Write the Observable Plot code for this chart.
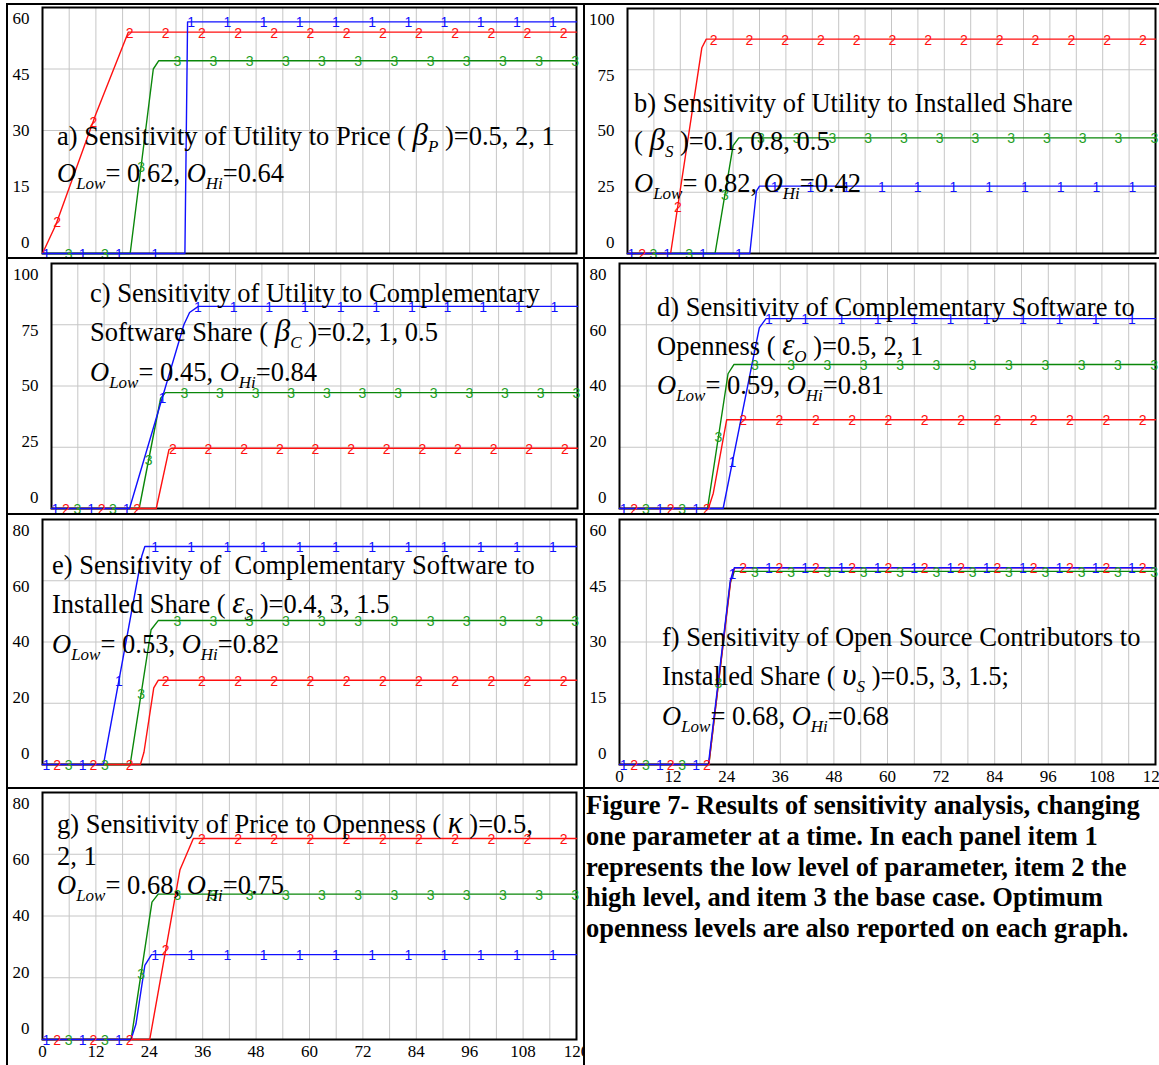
<!DOCTYPE html>
<html><head><meta charset="utf-8">
<script src="https://cdn.jsdelivr.net/npm/d3@7"></script>
<script src="https://cdn.jsdelivr.net/npm/@observablehq/plot@0.6"></script>
<style>
html,body{margin:0;padding:0;background:#fff;}
#fig{position:relative;width:1159px;height:1065px;overflow:hidden;background:#fff;font-family:"Liberation Serif","Times New Roman",serif;}
.box{position:absolute;overflow:hidden;}
.rule{position:absolute;background:#000;}
.ann{position:absolute;font-size:26.5px;line-height:26px;white-space:pre;color:#000;}
.sub{font-size:17px;position:relative;top:7px;font-style:italic;}
.gr{font-style:italic;font-size:31px;}
.it{font-style:italic;}
#cap{position:absolute;left:586px;top:790px;font-weight:bold;font-size:26.5px;line-height:30.8px;white-space:nowrap;}
</style></head><body><div id="fig"></div>
<script>
// ---------- data ----------
const xGrid = [0,6,12,18,24,30,36,42,48,54,60,66,72,78,84,90,96,102,108,114,120];
const xLabels = [0,12,24,36,48,60,72,84,96,108,120];
const yTicksA = [0,15,30,45,60];
const yTicksB = [0,25,50,75,100];
const yTicksC = [0,25,50,75,100];
const yTicksD = [0,20,40,60,80];
const yTicksE = [0,20,40,60,80];
const yTicksF = [0,15,30,45,60];
const yTicksG = [0,20,40,60,80];

// series as [time, value] breakpoints: 1 = low, 2 = high, 3 = base case
const aLow  = [[0,0],[32,0],[32.6,56.5],[120,56.5]];
const aHigh = [[0,0],[3,7],[12,34],[19.3,54],[120,54]];
const aBase = [[0,0],[19.7,0],[24.9,45],[26.1,47],[120,47]];

const bLow  = [[0,0],[27.8,0],[29.3,25.5],[30,27.5],[120,27.5]];
const bHigh = [[0,0],[9.8,0],[16.9,84],[17.9,87.5],[120,87.5]];
const bBase = [[0,0],[19.9,0],[24,44],[25.3,47.2],[120,47.2]];

const cLow  = [[0,0],[17.8,0],[30.2,75],[31.5,80],[33.5,82.5],[120,82.5]];
const cHigh = [[0,0],[23.9,0],[26.8,24],[27.5,24.6],[120,24.6]];
const cBase = [[0,0],[20,0],[24.9,45],[26,47.3],[120,47.3]];

const dLow  = [[0,0],[23.2,0],[31.3,59],[32.8,62],[120,62]];
const dHigh = [[0,0],[19.9,0],[21,5],[24,29],[120,29]];
const dBase = [[0,0],[19.7,0],[24.3,44],[25.6,47],[120,47]];

const eLow  = [[0,0],[13.7,0],[22.3,68],[23,71.2],[120,71.2]];
const eHigh = [[0,0],[22,0],[22.8,4],[25,25],[26,27.5],[120,27.5]];
const eBase = [[0,0],[19.7,0],[24.4,44],[26,47],[120,47]];

const fLow  = [[0,0],[19.9,0],[24.8,45],[25.7,48.2],[120,48.2]];
const fHigh = [[0,0],[20,0],[24.9,45],[25.8,48.2],[120,48.2]];
const fBase = [[0,0],[20,0],[24.8,44.5],[25.7,47.3],[120,47.3]];

const gLow  = [[0,0],[19.9,0],[21,5],[23,24],[24.5,27.5],[120,27.5]];
const gHigh = [[0,0],[24.1,0],[30.9,55],[33.9,65.1],[120,65.1]];
const gBase = [[0,0],[19.9,0],[24.6,44.5],[26,47.1],[120,47.1]];

// marker numbers placed along each run (Vensim style)
const markerOffsets = [0.9, 3.3, 5.9];
const markerStep = 8.13;

// ---------- style ----------
const SERIF = "Liberation Serif, Times New Roman, serif";
const SANS = "Liberation Sans, Arial, sans-serif";
const lineColors = ["#1010ff", "#ff1010", "#0a870a"];
const textColors = ["#1010ff", "#ff1010", "#1e9e1e"];
const gridColor = "#c6c6c6";

const panels = [
  {series:[aLow,aHigh,aBase], yTicks:yTicksA, box:[9,5,574,252],   frame:[42,7,576,253],    xAxis:false},
  {series:[bLow,bHigh,bBase], yTicks:yTicksB, box:[585,5,574,252], frame:[627,8,1155,253],  xAxis:false},
  {series:[cLow,cHigh,cBase], yTicks:yTicksC, box:[9,259,574,254], frame:[51,263,577,508],  xAxis:false},
  {series:[dLow,dHigh,dBase], yTicks:yTicksD, box:[585,259,574,254], frame:[619,263,1155,508], xAxis:false},
  {series:[eLow,eHigh,eBase], yTicks:yTicksE, box:[9,515,574,272], frame:[42,519,576,764],  xAxis:false},
  {series:[fLow,fHigh,fBase], yTicks:yTicksF, box:[585,515,574,272], frame:[619,519,1155,764], xAxis:true},
  {series:[gLow,gHigh,gBase], yTicks:yTicksG, box:[9,789,574,276], frame:[42,792,576,1039], xAxis:true}
];

function interp(pts, t) {
  for (let i = 0; i < pts.length - 1; i++) {
    const [t0, v0] = pts[i], [t1, v1] = pts[i + 1];
    if (t >= t0 && t <= t1) return t1 === t0 ? v1 : v0 + (v1 - v0) * (t - t0) / (t1 - t0);
  }
  return pts[pts.length - 1][1];
}

const fig = document.getElementById("fig");

function rule(l, t, w, h) {
  const d = document.createElement("div");
  d.className = "rule";
  Object.assign(d.style, {left: l + "px", top: t + "px", width: w + "px", height: h + "px"});
  fig.appendChild(d);
}

panels.forEach(p => {
  const [sx, sy, W, H] = p.box;
  const [fx0, fy0, fx1, fy1] = p.frame;
  const ymax = d3.max(p.yTicks);
  const order = [2, 1, 0];
  const marks = [
    Plot.gridX(xGrid, {stroke: gridColor, strokeOpacity: 1, strokeWidth: 1}),
    Plot.gridY(p.yTicks, {stroke: gridColor, strokeOpacity: 1, strokeWidth: 1}),
    Plot.frame({stroke: "#000", strokeWidth: 2})
  ];
  order.forEach(k => {
    marks.push(Plot.line(p.series[k], {x: d => d[0], y: d => d[1], stroke: lineColors[k], strokeWidth: 1.4}));
  });
  order.forEach(k => {
    const md = d3.range(markerOffsets[k], 120.4, markerStep).map(t => ({t, v: interp(p.series[k], t), label: String(k + 1)}));
    marks.push(Plot.text(md, {x: "t", y: "v", text: "label", fill: textColors[k], fontSize: 14, fontFamily: SANS, dy: 1}));
  });
  const sorted = p.yTicks.slice().sort((a, b) => b - a);
  sorted.forEach((t, i) => {
    marks.push(Plot.axisY([t], {tickSize: 0, tickPadding: 13, dy: 11 - 5.5 * i, fontSize: 17, fontFamily: SERIF, fill: "#000", label: null, tickFormat: d => String(d)}));
  });
  if (p.xAxis) {
    marks.push(Plot.axisX(xLabels, {tickSize: 0, tickPadding: 5, fontSize: 17, fontFamily: SERIF, fill: "#000", label: null, tickFormat: d => String(d)}));
  }
  const svg = Plot.plot({
    width: W, height: H,
    marginLeft: fx0 - sx, marginTop: fy0 - sy, marginRight: sx + W - fx1, marginBottom: sy + H - fy1,
    x: {domain: [0, 120], axis: null},
    y: {domain: [0, ymax], axis: null},
    style: {background: "white", fontFamily: SERIF, color: "#000"},
    marks
  });
  const box = document.createElement("div");
  box.className = "box";
  Object.assign(box.style, {left: sx + "px", top: sy + "px", width: W + "px", height: H + "px"});
  box.appendChild(svg);
  fig.appendChild(box);
});

// table rules
rule(6, 3, 1153, 2);
rule(6, 3, 2, 1062);
rule(583, 3, 2, 1062);
rule(6, 257, 1153, 2);
rule(6, 513, 1153, 2);
rule(6, 787, 1153, 2);

// annotations: [left, center-y, html]
const O = (s) => `<span class="it">O</span><span class="sub">${s}</span>`;
const G = (g, s) => `<span class="gr">${g}</span><span class="sub">${s}</span>`;
const notes = [
  [57, 135, `a) Sensitivity of Utility to Price ( ${G("β","P")} )=0.5, 2, 1`],
  [57, 173, `${O("Low")}= 0.62, ${O("Hi")}=0.64`],
  [634, 103, `b) Sensitivity of Utility to Installed Share`],
  [634, 140, `( ${G("β","S")} )=0.1, 0.8, 0.5`],
  [634, 183, `${O("Low")}= 0.82, ${O("Hi")}=0.42`],
  [90, 293, `c) Sensitivity of Utility to Complementary`],
  [90, 331, `Software Share ( ${G("β","C")} )=0.2, 1, 0.5`],
  [90, 372, `${O("Low")}= 0.45, ${O("Hi")}=0.84`],
  [657, 307, `d) Sensitivity of Complementary Software to`],
  [657, 345, `Openness ( ${G("ε","O")} )=0.5, 2, 1`],
  [657, 385, `${O("Low")}= 0.59, ${O("Hi")}=0.81`],
  [52, 565, `e) Sensitivity of  Complementary Software to`],
  [52, 603, `Installed Share ( ${G("ε","S")} )=0.4, 3, 1.5`],
  [52, 644, `${O("Low")}= 0.53, ${O("Hi")}=0.82`],
  [662, 637, `f) Sensitivity of Open Source Contributors to`],
  [662, 675, `Installed Share ( ${G("υ","S")} )=0.5, 3, 1.5;`],
  [662, 716, `${O("Low")}= 0.68, ${O("Hi")}=0.68`],
  [57, 823, `g) Sensitivity of Price to Openness ( <span class="gr">κ</span> )=0.5,`],
  [57, 856, `2, 1`],
  [57, 885, `${O("Low")}= 0.68, ${O("Hi")}=0.75`]
];
notes.forEach(([x, y, html]) => {
  const d = document.createElement("div");
  d.className = "ann";
  d.style.left = x + "px";
  d.style.top = (y - 13) + "px";
  d.innerHTML = html;
  fig.appendChild(d);
});

const cap = document.createElement("div");
cap.id = "cap";
cap.innerHTML = "Figure 7- Results of sensitivity analysis, changing<br>one parameter at a time. In each panel item 1<br>represents the low level of parameter, item 2 the<br>high level, and item 3 the base case. Optimum<br>openness levels are also reported on each graph.";
fig.appendChild(cap);
</script></body></html>
